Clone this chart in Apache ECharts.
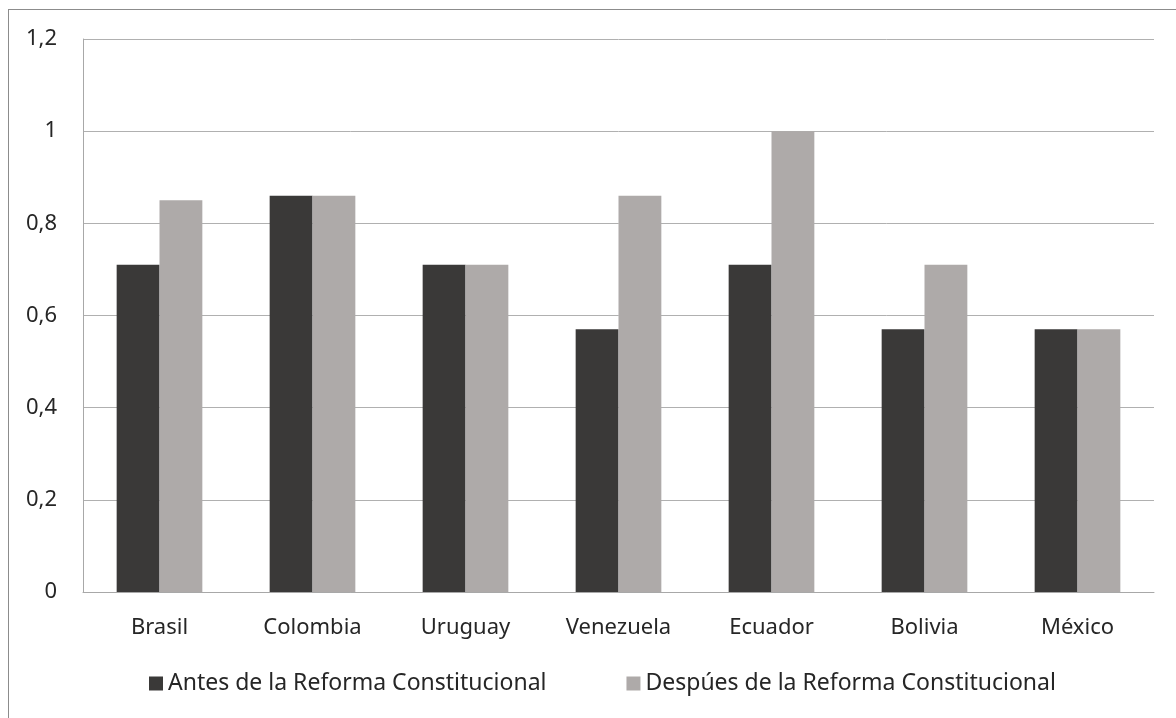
<!DOCTYPE html>
<html>
<head>
<meta charset="utf-8">
<script src="https://cdn.jsdelivr.net/npm/echarts@6/dist/echarts.min.js"></script>
<style>
html,body{margin:0;padding:0;background:#fff;}
#frame{position:absolute;left:8px;top:9px;width:1200px;height:760px;border:1px solid #8c8c8c;box-sizing:border-box;}
#chart{position:absolute;left:0;top:0;width:1176px;height:718px;}
</style>
</head>
<body>
<div id="frame"></div>
<div id="chart"></div>
<script>
const categories = ['Brasil','Colombia','Uruguay','Venezuela','Ecuador','Bolivia','México'];
const seriesNames = ['Antes de la Reforma Constitucional','Despúes de la Reforma Constitucional'];
const antes = [0.71, 0.86, 0.71, 0.57, 0.71, 0.57, 0.57];
const despues = [0.85, 0.86, 0.71, 0.86, 1.0, 0.71, 0.57];
const colors = ['#3a3938', '#aeaaa9'];

const font = '"Noto Sans", sans-serif';
const chart = echarts.init(document.getElementById('chart'), null, {renderer:'canvas'});
chart.setOption({
  animation: false,
  grid: {left: 83, right: 22, top: 39, bottom: 126, containLabel: false},
  legend: {
    top: 667, left: 144,
    itemWidth: 14, itemHeight: 14, itemGap: 80,
    icon: 'rect',
    textStyle: {fontFamily: font, fontSize: 23, color: '#262626'},
    data: seriesNames
  },
  xAxis: {
    type: 'category', data: categories,
    axisLine: {lineStyle: {color: '#a8a8a8', width: 1}},
    axisTick: {show: false},
    axisLabel: {fontFamily: font, fontSize: 22, color: '#262626', margin: 25}
  },
  yAxis: {
    type: 'value', min: 0, max: 1.2, interval: 0.2,
    axisLine: {show: true, lineStyle: {color: '#a8a8a8', width: 1}},
    axisTick: {show: false},
    splitLine: {lineStyle: {color: '#b0b0b0', width: 1}},
    axisLabel: {
      fontFamily: font, fontSize: 22, color: '#262626', margin: 26,
      formatter: v => String(Math.round(v*10)/10).replace('.', ',')
    }
  },
  series: [
    {name: seriesNames[0], type: 'bar', data: antes, barGap: '0%', barCategoryGap: '44%',
     itemStyle: {color: colors[0]}},
    {name: seriesNames[1], type: 'bar', data: despues, barGap: '0%', barCategoryGap: '44%',
     itemStyle: {color: colors[1]}}
  ]
});
</script>
</body>
</html>
